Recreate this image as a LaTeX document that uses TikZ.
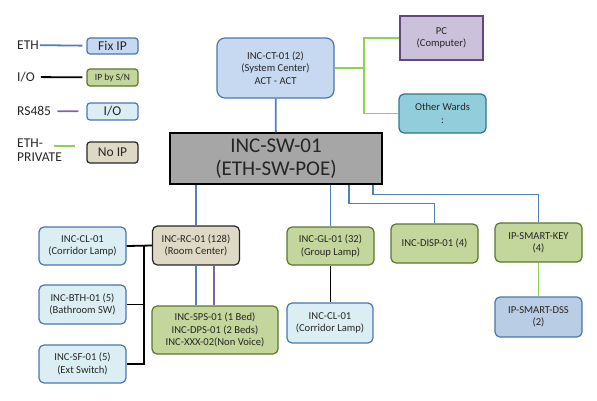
\documentclass[tikz,border=0pt]{standalone}
\usepackage{fontspec}
\setmainfont{Carlito}

\definecolor{ethline}{HTML}{4F81BD}
\definecolor{rsline}{HTML}{8064A2}
\definecolor{prvline}{HTML}{92D050}
\definecolor{fixfill}{HTML}{C6D9F1}
\definecolor{fixdraw}{HTML}{4A76AE}
\definecolor{snfill}{HTML}{C3D69B}
\definecolor{sndraw}{HTML}{5E7530}
\definecolor{iofill}{HTML}{DBEEF4}
\definecolor{iodraw}{HTML}{4A76AE}
\definecolor{nofill}{HTML}{DDD9C4}
\definecolor{nodraw}{HTML}{262626}
\definecolor{pcfill}{HTML}{CCC1DA}
\definecolor{pcdraw}{HTML}{604A7B}
\definecolor{wardfill}{HTML}{92CDDC}
\definecolor{warddraw}{HTML}{31748A}
\definecolor{dssfill}{HTML}{B9CDE5}
\definecolor{swfill}{HTML}{A6A6A6}

\begin{document}
\begin{tikzpicture}[x = 1pt, y = -1pt,
    box/.style = {draw, rounded corners = 5pt, line width = 1.2pt, align = center,
      inner sep = 1pt, text = black!85, font = \fontsize{10.6}{12.4}\selectfont,
      minimum width = 87pt, minimum height = 39pt},
    fixbox/.style = {box, draw = fixdraw, fill = fixfill},
    snbox/.style = {box, draw = sndraw, fill = snfill},
    iobox/.style = {box, draw = iodraw, fill = iofill},
    nobox/.style = {box, draw = nodraw, fill = nofill},
    legbox/.style = {rounded corners = 3pt, minimum width = 51pt, minimum height = 17pt,
      font = \fontsize{13.5}{15}\selectfont},
    leglabel/.style = {anchor = west, inner sep = 0pt, align = left, text = black!85,
      font = \fontsize{13.5}{14}\selectfont},
    eth/.style = {ethline, line width = 1.8pt},
    io/.style = {black, line width = 1.8pt},
    rs/.style = {rsline, line width = 1.8pt},
    prv/.style = {prvline, line width = 1.8pt}
  ]
  \useasboundingbox (0, 0) rectangle (597, 400);

  % legend
  \node[leglabel] (leth) at (17, 45) {ETH};
  \node[leglabel] (lio) at (17, 77) {I/O};
  \node[leglabel] (lrs) at (17, 111) {RS485};
  \node[leglabel, anchor = north west] (lprv) at (17, 139) {ETH-\\PRIVATE};

  \node[fixbox, legbox, minimum height = 16pt] (fixip) at (112.5, 46) {Fix IP};
  \node[snbox, legbox, font = \fontsize{9.5}{11}\selectfont] (ipsn) at (112.5, 77.5) {IP by S/N};
  \node[iobox, legbox] (iol) at (112.5, 111.5) {I/O};
  \node[nobox, legbox, minimum height = 21pt] (noip) at (112.5, 152.5) {No IP};

  \coordinate (P1) at (54, 146);
  \coordinate (P2) at (75, 146);

  \draw[eth, shorten <= 1pt, shorten >= 4pt] (leth) edge (fixip);
  \draw[io, shorten <= 6pt, shorten >= 4pt] (lio) edge (ipsn);
  \draw[rs, shorten <= 6pt, shorten >= 8pt] (lrs) edge (iol);
  \draw[prv] (P1) -- (P2);

  % switch and centre
  \node[draw, line width = 1.2pt, fill = swfill, minimum width = 212pt, minimum height = 51pt,
    align = center, inner sep = 0pt, text = black!85, font = \fontsize{21}{23}\selectfont]
    (sw) at (276, 158.5) {INC-SW-01\\(ETH-SW-POE)};
  \node[fixbox, minimum width = 117pt, minimum height = 60pt, rounded corners = 8pt]
    (ct) at (275.5, 68) {INC-CT-01 (2)\\(System Center)\\ACT - ACT};
  \node[box, rounded corners = 0pt, draw = pcdraw, fill = pcfill, minimum width = 83pt,
    minimum height = 44pt] (pc) at (441.5, 38) {PC\\(Computer)};
  \node[box, draw = warddraw, fill = wardfill] (ward) at (442.5, 113.5) {Other Wards\\:};

  % devices
  \node[nobox] (rc) at (196, 245.5) {INC-RC-01 (128)\\(Room Center)};
  \node[iobox, minimum height = 38pt] (lamp) at (82.5, 246) {INC-CL-01\\(Corridor Lamp)};
  \node[iobox] (bath) at (82.5, 304.5) {INC-BTH-01 (5)\\(Bathroom SW)};
  \node[iobox, minimum height = 38pt] (ext) at (82.5, 364) {INC-SF-01 (5)\\(Ext Switch)};
  \node[snbox, minimum width = 126pt, minimum height = 48pt] (bed) at (215, 330)
    {INC-SPS-01 (1 Bed)\\INC-DPS-01 (2 Beds)\\INC-XXX-02(Non Voice)};
  \node[snbox, minimum height = 38pt] (group) at (330.5, 246) {INC-GL-01 (32)\\(Group Lamp)};
  \node[iobox, minimum width = 86pt, minimum height = 40pt] (lamp2) at (330, 323)
    {INC-CL-01\\(Corridor Lamp)};
  \node[snbox] (disp) at (434.5, 243.5) {INC-DISP-01 (4)};
  \node[snbox] (key) at (538.5, 242.5) {IP-SMART-KEY\\(4)};
  \node[box, draw = fixdraw, fill = dssfill, minimum height = 40pt] (dss) at (538.5, 317)
    {IP-SMART-DSS\\(2)};

  \coordinate (BUS) at (144, 246);
  \coordinate (GJ) at (364, 68);

  % ethernet
  \draw[eth] (ct) edge (sw);
  \draw[eth] (rc.north) -- (rc.north |- sw.south);
  \draw[eth] (group.north) -- (group.north |- sw.south);
  \draw[eth] (disp.north) -- ++(0, -20) -| ([xshift = 73pt]sw.south);
  \draw[eth] (key.north) -- ++(0, -28) -| ([xshift = 97pt]sw.south);
  \draw[eth] (rc.south) -- (rc.south |- bed.north);

  % rs485
  \draw[rs] ([xshift = 18pt]rc.south) -- ([xshift = 18pt]rc.south |- bed.north);

  % i/o
  \draw[io] (lamp.east) -- (rc.west);
  \draw[io] (BUS) |- (ext.east);
  \draw[io] (bath.east) -- (bath.east -| BUS);
  \draw[io] (group.south) -- (group.south |- lamp2.north);

  % private
  \draw[prv] (ct.east) -- (GJ);
  \draw[prv] (pc.west) -| (GJ) |- (ward.west);
  \draw[prv] (key) edge (dss);
\end{tikzpicture}
\end{document}
